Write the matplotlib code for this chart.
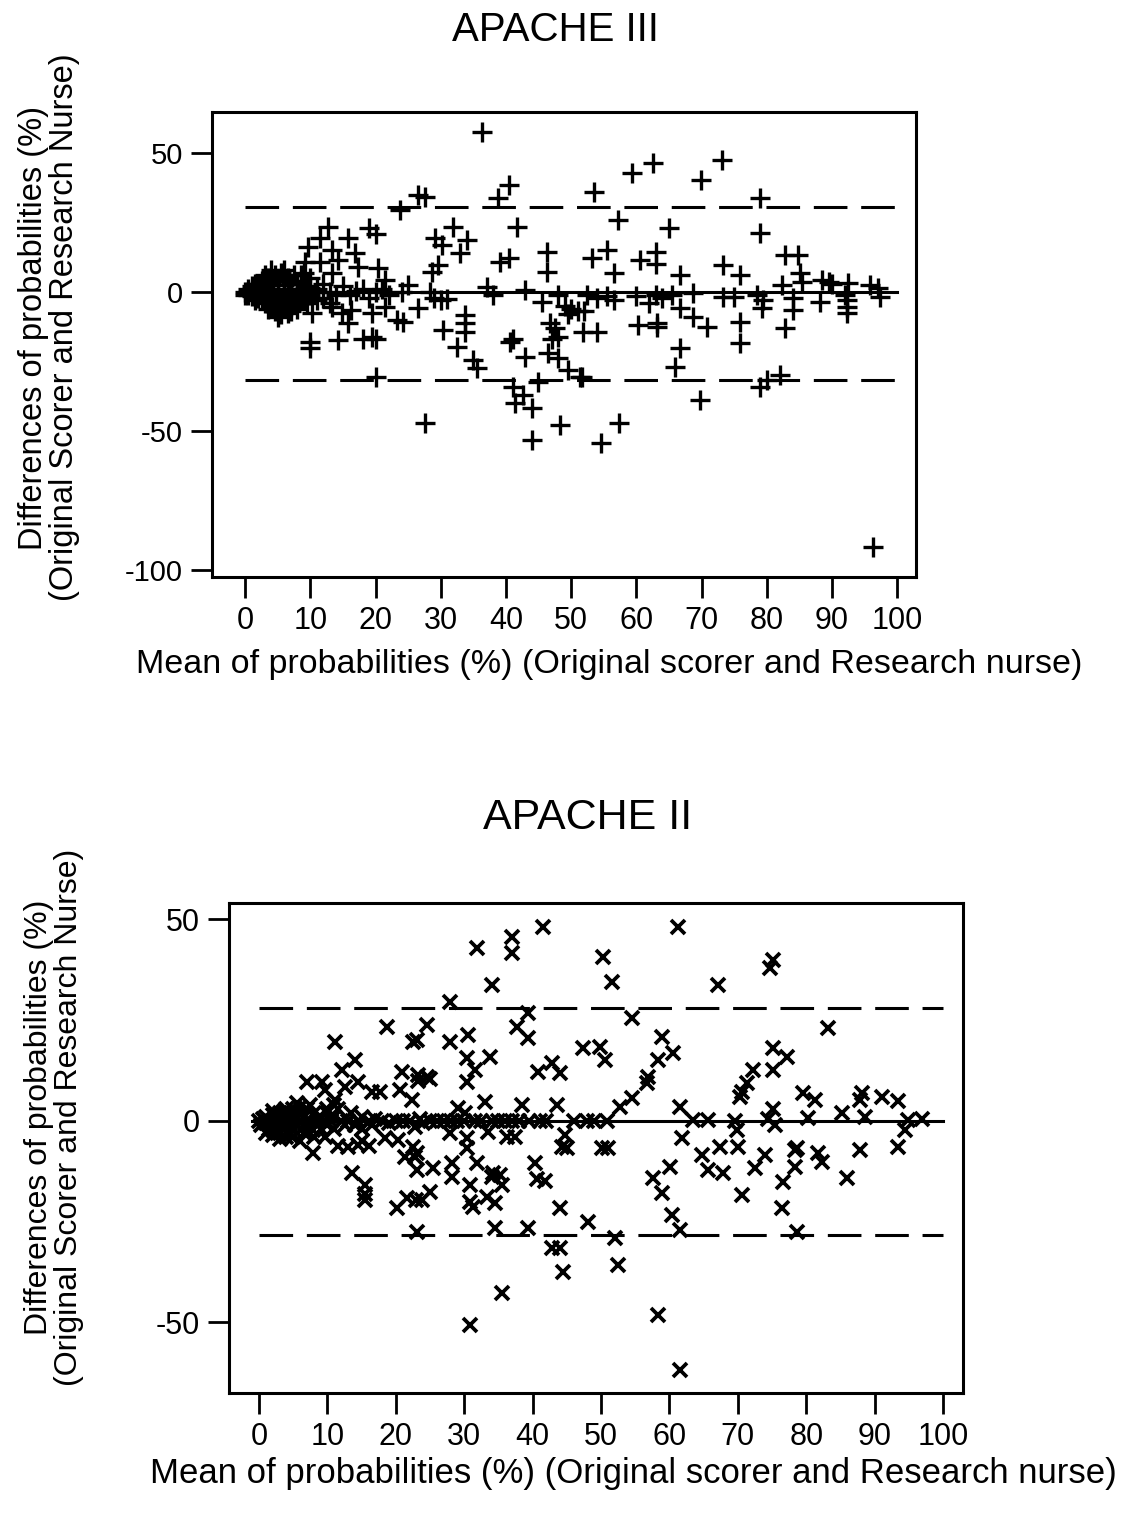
import numpy as np
import matplotlib
matplotlib.use("Agg")
import matplotlib.pyplot as plt

plt.rcParams['font.family'] = ['Liberation Sans', 'DejaVu Sans']
plt.rcParams['axes.unicode_minus'] = False

# APACHE III: (mean of probabilities, difference of probabilities), %
apache3_core = [
    (0, 0), (0.5, 1), (0.5, -1), (1, 2), (1, -1.5), (1.5, 0), (1.5, 3), (2, -2), (2, 1),
    (2.5, 4), (2.5, -3), (3, 0), (3, 2), (3, -4), (3.5, 5), (3.5, -1), (4, 3), (4, -5),
    (4, 0.5), (4.5, 6), (4.5, -2), (5, 1), (5, -6), (5, 4), (5.5, -3), (5.5, 7), (6, 0),
    (6, -4), (6, 2.5), (6.5, 5), (6.5, -7.6), (7, -1), (7, 3), (7, -5), (7.5, 6), (7.5, -2),
    (8, 1), (8, -6), (8.5, 4), (8.5, -3), (9, 0), (9, 7), (9.5, -4), (9.5, 2), (10, -1),
    (10, 5), (10.3, -7.6), (11, 1), (11, -3), (12, 3), (12, -2), (13, 0), (14, -1), (13, -4),
    (1, 0.5), (2, -0.5), (3, -1.5), (4, -2.5), (5, -1), (6, -2), (7, 1), (8, -1), (2, 3),
    (3.5, -6), (4.5, -7), (5.5, -8), (6, 8), (4, 8), (3, 6), (5, -9), (7, -7), (8.5, 6),
    (1.5, -3), (0, -1), (2.5, 1.5), (6.5, -0.5), (8, 3), (9, -2), (10, 1.5),
    (15, 2), (16, -1), (17, 0.5), (18, 1), (19, -2), (20, 0), (21, 1), (22, -1), (24, 0),
]
apache3_low = [
    (12.7, 23.4), (19, 23), (20, 21), (11.5, 19.4), (15.8, 19.4), (9.7, 16.2), (13.3, 15),
    (16.9, 14), (9.2, 10.8), (11.5, 10.8), (14.3, 11.5), (17.3, 9), (13.3, 6.8), (20.4, 8.6),
    (21.5, 4.3), (13.3, -5.4), (16.2, -6.5), (14.9, -7.6), (19.5, -7.6), (21.5, -5.4),
    (15.8, -11), (14.3, -17.3), (10, -18), (10, -20), (18, -17), (20, -17), (19.5, -16),
    (20, -30.5), (23.3, -10),
]
apache3_mid = [
    (36.3, 57.6), (40.4, 38.5), (38.7, 33.8), (26.5, 35), (27.5, 34), (23.8, 29.5),
    (41.7, 23.4), (31.9, 23.4), (34, 18.7), (29.1, 19.4), (30.2, 17), (33, 14), (46.3, 14.4),
    (39.1, 10.8), (40.4, 12.2), (29.6, 9.7), (28.7, 7.2), (46.3, 7.2), (25, 2.5), (37.1, 1.8),
    (42.9, 0.7), (28.9, -2), (30, -3), (31, -2.5), (28.4, 0), (38, -1.1), (45.6, -3.6),
    (48, -1), (49, -5), (50, -6), (49.5, -8), (51, -7), (26.5, -5.8), (24.2, -10.8),
    (33.7, -8.3), (33.7, -11), (30.4, -13.7), (33.7, -14.5), (32.5, -19.8), (40.6, -18),
    (41, -17), (42.9, -23.4), (46.8, -11), (47.5, -13), (48, -16), (47, -17), (46.5, -22),
    (48, -23.7), (49.5, -28), (51.4, -30.5), (35, -24.5), (35.6, -27.3), (41, -34),
    (41.4, -40), (44, -41.7), (42.6, -37), (44.9, -32.4), (27.6, -47), (48.3, -47.8), (44, -53.2),
]
apache3_high = [
    (73.2, 47.5), (62.5, 46.4), (59.4, 42.8), (69.9, 40.3), (53.5, 36), (57.2, 25.9), (65, 23),
    (79, 33.8), (79, 21.2), (53.2, 12.2), (55.5, 15), (56.5, 6.8), (60.6, 11.5), (63, 14.4),
    (63, 10.1), (66.7, 6.1), (73.3, 9.7), (75.9, 6.1), (68.7, -0.4), (52.5, -1), (54, -2),
    (55.5, -1.5), (56.5, -3), (60, -1.5), (62, -4), (63, -1), (64, -2), (65.5, -1),
    (66.7, -5.8), (73.3, -1.8), (75, -1.8), (78.5, -1), (79.3, -5.8), (52, -7), (51.8, -14.4),
    (54, -14.4), (60.3, -12), (63.2, -11), (63.2, -12.5), (68.7, -9), (70.9, -12.6),
    (75.9, -10.8), (75.9, -18.5), (66.7, -20), (66, -27), (69.8, -38.8), (79, -34),
    (57.4, -47.2), (54.5, -54.3), (51.7, -30.5),
    (82.8, 13.3), (84.8, 13.3), (85.1, 6.8), (85.4, 3.6), (88.5, 4.5), (89.5, 3.5), (90, 3),
    (92.5, 3.2), (95.9, 2.5), (97, 1.5), (82.4, 2.5), (92, -1), (92.3, -3), (97.4, -1.8),
    (79.5, -2.9), (84, -2.2), (84, -6.5), (88.2, -3.6), (92.3, -5.4), (92.3, -7.6),
    (82.8, -13), (80, -31.7), (82, -30), (96.3, -91.7),
]
apache3_limits = (30.5, -31.8)

# APACHE II
apache2_core = [
    (0, 0), (0.3, -1), (0.6, 0.5), (1, -0.5), (1, 1), (1.5, -2), (1.5, 0), (2, -2.2), (2, 1.5),
    (2.5, -1), (2.5, 0.5), (3, -3), (3, 0), (3.5, 1), (3.5, -2), (4, -1), (4, 2), (4.5, -3.5),
    (4.5, 0), (5, 1), (5, -2), (5.6, 4.5), (5.5, -1), (6, 0), (6, 2), (6.5, -3), (6.5, 1),
    (7, -1), (7, 3), (7.5, 0), (7.9, -2.2), (8, 2), (8.5, -1), (8.5, 0.5), (9, 1), (9.6, -4),
    (9.5, 0), (10, 2), (10, -1), (10.5, 0), (11, -2), (11, 1), (11.5, 3), (12, 0), (12.5, -1),
    (1, -3), (2, -3.5), (3, 2), (4, -4), (5, 3), (5, -4), (6, -5), (7, -3), (7.5, 4), (8, -4),
    (3, -4.5), (2, 2.5), (4, 3), (6, 3.5), (9, -2), (10, 3), (11, 4), (6.5, -1.5), (3.5, -1),
    (5.5, 0.5),
    (13, 0), (13.5, 2), (14, -1), (14.5, 0), (15, 1), (16, 0), (16.5, -1), (17, 0.5), (18, 0),
    (19, -0.5), (20, 0), (21, 0), (22, 0), (23.5, 0.5), (24, -0.5), (25, 0), (26, 0), (27, 0),
    (28, 0), (29, 0), (30, 0), (31.5, 0), (32.5, 0), (34, 0), (35, 0), (36, 0), (37, 0),
    (38, 0), (39.5, 0), (41, 0), (42, 0), (46, 0), (48, 0), (49, 0),
]
apache2_low = [
    (18.7, 23.3), (11.1, 19.6), (22.5, 19.6), (14, 15.1), (12.1, 12.7), (20.9, 12.2),
    (23.2, 11.5), (7, 9.7), (9.2, 9.7), (9.6, 7.7), (12.6, 8.4), (14.5, 9.7), (16.5, 7.2),
    (17.7, 7.2), (20.6, 7.7), (22.4, 5.2), (11.1, 5.2), (15, -2), (15, -5), (18.4, -4.2),
    (20.3, -4.7), (11.5, -6.2), (13, -6.5), (14.5, -6), (16, -6.2), (22.5, -6.5), (21.3, -8.9),
    (22.8, -8.9), (7.9, -8), (13.6, -12.9), (15.5, -15.9), (15.5, -18), (15.5, -19.6),
    (20.2, -21.6), (21.6, -19), (23, -19.6), (23.1, -27.5),
]
apache2_mid = [
    (41.5, 48.1), (31.9, 42.9), (37, 45.6), (37, 41.7), (50.3, 40.7), (34, 33.7), (27.9, 29.5),
    (39.3, 26.8), (37.7, 23.3), (39.3, 20.6), (24.6, 23.8), (23.1, 20), (27.9, 19.6),
    (30.6, 21.3), (30.4, 15.6), (33.8, 15.9), (31.6, 12.7), (30.4, 9.7), (23.2, 10), (24.5, 11),
    (25, 10.5), (40.8, 12.2), (42.8, 14.4), (44, 11.9), (47.4, 18.1), (49.9, 18.4), (50.6, 15.1),
    (33, 4.7), (38.5, 4), (43.6, 4), (29.1, 3.2), (30.1, 2), (22.8, -1.5), (27.9, -3),
    (30.4, -4.2), (33.5, -2.7), (36.3, -4), (37.4, -4), (30.4, -6.7), (44.7, -3.5), (44.3, -6.5),
    (45, -6.7), (50.1, -6.7), (23.1, -8), (23.1, -12.2), (25.4, -11.7), (28.2, -10.4),
    (28.2, -13.9), (31.9, -10.4), (34.2, -13), (34, -14), (35.5, -16), (35.2, -13.5),
    (30.8, -15.9), (40.4, -10.4), (40.6, -14.5), (41.8, -15), (25, -17.6), (23.8, -19.6),
    (30.8, -20), (31.3, -21.3), (33.3, -18.9), (34.5, -20.3), (44, -21.6), (34.5, -26.6),
    (39.3, -26.6), (48.1, -25), (42.8, -31.5), (44, -31.5), (44.4, -37.5), (35.5, -42.7),
    (30.8, -50.6),
]
apache2_high = [
    (61.3, 48.1), (51.6, 34.5), (67.1, 33.7), (75.1, 40), (74.7, 38), (54.5, 25.6), (58.9, 20.8),
    (60.5, 16.9), (58.3, 15.1), (56.9, 10.9), (56.7, 9.4), (54.5, 5.7), (52.8, 3.5), (61.5, 3.5),
    (63.5, 0.2), (65.6, 0.2), (69.6, 0), (74.4, 0.5), (75.4, -1), (75.1, 3), (61.8, -4.2),
    (64.8, -8.4), (67.4, -6.5), (65.6, -12.2), (67.8, -12.9), (69.9, -2.2), (70, -6.5),
    (72.5, -11.7), (74, -8.4), (70.6, -18.4), (76.6, -15.1), (78.4, -7.2), (78.4, -11.4),
    (76.5, -21.6), (57.6, -14.1), (58.9, -17.9), (60.1, -11.4), (60.4, -23.3), (61.5, -27),
    (52, -29), (52.5, -35.7), (58.3, -48.1), (61.5, -61.8), (70.3, 6), (71.3, 9.4), (72.2, 12.7),
    (70.6, 7.2), (75.1, 12.7), (75.1, 18.1), (77.2, 15.9), (51, -6.7), (50.9, 0),
    (83.2, 23.1), (79.5, 6.9), (81.3, 5.2), (80.3, 0.7), (85.2, 2), (87.9, 5.2), (88.2, 6.9),
    (88.6, 1), (91, 6), (93.4, 5), (94.9, 0.2), (94.4, -2.2), (96.9, 0.5), (93.4, -6.5),
    (78.7, -6.7), (81.7, -8), (82.3, -10.2), (87.9, -7.2), (86, -14.1), (78.7, -27.5),
]
apache2_limits = (28.0, -28.3)

x_ticks = list(range(0, 101, 10))
xlabel = "Mean of probabilities (%) (Original scorer and Research nurse)"
ylabel = "Differences of probabilities (%)\n(Original Scorer and Research Nurse)"


def draw_panel(ax, pts, limits, marker, msize, mew, xlim, ylim, yticks, xfs, yfs):
    pts = np.array(pts)
    ax.plot(pts[:, 0], pts[:, 1], linestyle='none', marker=marker, markersize=msize,
            markeredgewidth=mew, color='black')
    ax.plot([-1, 100], [0, 0], color='black', linewidth=2.2)
    for lim in limits:
        ax.plot([0, 100], [lim, lim], color='black', linewidth=2.2, linestyle=(0, (11, 4.5)))
    ax.set_xlim(*xlim)
    ax.set_ylim(*ylim)
    ax.set_xticks(x_ticks)
    ax.set_yticks(yticks)
    ax.tick_params(direction='out', length=15, width=2, pad=6)
    ax.tick_params(axis='x', labelsize=xfs)
    ax.tick_params(axis='y', labelsize=yfs)
    for s in ax.spines.values():
        s.set_linewidth(2.2)


fig = plt.figure(figsize=(11.33, 15.13), dpi=100)

ax1 = fig.add_axes([0.1871, 0.6186, 0.6214, 0.3073])
draw_panel(ax1, apache3_core + apache3_low + apache3_mid + apache3_high, apache3_limits,
           '+', 15, 2.4, (-5.1, 102.9), (-102.5, 64.7), [-100, -50, 0, 50], 22, 21)
fig.text(0.490, 0.980, "APACHE III", ha='center', va='center', fontsize=29)
fig.text(0.538, 0.5605, xlabel, ha='center', va='center', fontsize=24.5)
fig.text(0.043, 0.7835, ylabel, ha='center', va='center', rotation=90, fontsize=23.5,
         linespacing=1.0)

ax2 = fig.add_axes([0.2021, 0.0793, 0.6478, 0.3239])
draw_panel(ax2, apache2_core + apache2_low + apache2_mid + apache2_high, apache2_limits,
           'x', 10, 2.7, (-4.4, 102.9), (-67.5, 54.1), [-50, 0, 50], 22, 22)
fig.text(0.519, 0.4594, "APACHE II", ha='center', va='center', fontsize=31)
fig.text(0.559, 0.0264, xlabel, ha='center', va='center', fontsize=25)
fig.text(0.048, 0.2617, ylabel, ha='center', va='center', rotation=90, fontsize=23,
         linespacing=1.0)

fig.savefig("out.png", dpi=100, facecolor='white')
